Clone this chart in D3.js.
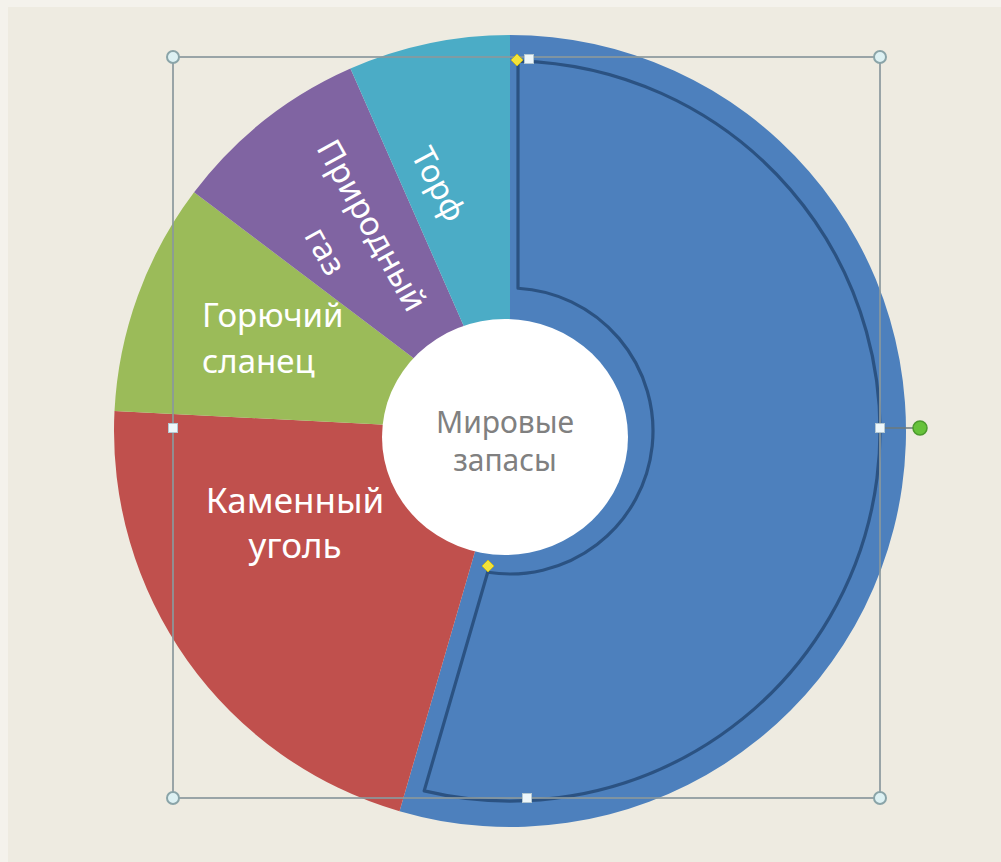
<!DOCTYPE html>
<html><head><meta charset="utf-8">
<script src="https://cdn.jsdelivr.net/npm/d3@7"></script>
<style>body{margin:0;background:#eeebe1;overflow:hidden}</style></head>
<body><svg id="c" width="1001" height="862"></svg>
<script>
// ---- data ----
const categories = ["", "Каменный уголь", "Горючий сланец", "Природный газ", "Торф"];
const values = [54.5, 21.3, 9.5, 8.1, 6.6];
const labelLines = [[], ["Каменный", "уголь"], ["Горючий", "сланец"], ["Природный", "газ"], ["Торф"]];
const centerLabel = ["Мировые", "запасы"];

// ---- style / layout ----
const colors = ["#4d80bd", "#c0504d", "#9bbb59", "#8064a2", "#4bacc6"];
const W = 1001, H = 862, cx = 510, cy = 431, R = 396, R0 = 100;
const labelLayout = [
  null,
  {x: 295, y: 513, rot: 0, size: 35, anchor: "middle", ls: 45, mode: "baseline"},
  {x: 202, y: 327, rot: 0, size: 33, anchor: "start", ls: 46, mode: "baseline"},
  {x: 349, y: 238, rot: 61, size: 33, anchor: "middle", ls: 53, mode: "center"},
  {x: 439, y: 184, rot: 62, size: 32, anchor: "middle", ls: 0, mode: "center"}
];

const svg = d3.select("#c");
svg.append("rect").attr("width", W).attr("height", H).attr("fill", "#f4f2ec");
svg.append("rect").attr("x", 8).attr("y", 7).attr("width", W - 8).attr("height", H - 7).attr("fill", "#eeebe1");

const pie = d3.pie().sort(null).value(d => d);
const arcs = pie(values);
const arc = d3.arc().innerRadius(R0).outerRadius(R);

const g = svg.append("g").attr("transform", `translate(${cx},${cy})`);
g.selectAll("path.slice").data(arcs).join("path")
  .attr("class", "slice")
  .attr("d", arc)
  .attr("fill", (d, i) => colors[i]);

// selection outline inside the blue slice
(function () {
  const a0 = arcs[0].startAngle, a1 = arcs[0].endAngle;
  const ro = 370, ri = 143, ds = 8, de = 18;
  const ts = r => a0 + Math.asin(ds / r), te = r => a1 - Math.asin(de / r);
  const P = (r, t) => [r * Math.sin(t), -r * Math.cos(t)];
  const p = d3.path();
  const s0 = P(ro, ts(ro));
  p.moveTo(s0[0], s0[1]);
  p.arc(0, 0, ro, ts(ro) - Math.PI / 2, te(ro) - Math.PI / 2, false);
  const e1 = P(ri, te(ri));
  p.lineTo(e1[0], e1[1]);
  p.arc(0, 0, ri, te(ri) - Math.PI / 2, ts(ri) - Math.PI / 2, true);
  p.closePath();
  g.append("path").attr("d", p.toString()).attr("fill", "none")
    .attr("stroke", "#2b5282").attr("stroke-width", 3.2).attr("stroke-linejoin", "round");
})();

// center white circle
svg.append("ellipse").attr("cx", 505).attr("cy", 437).attr("rx", 123).attr("ry", 118).attr("fill", "#ffffff");
svg.append("text").attr("x", 505).attr("y", 433).attr("text-anchor", "middle")
  .attr("font-family", "Noto Sans, sans-serif").attr("font-size", 30).attr("fill", "#808080")
  .selectAll("tspan").data(centerLabel).join("tspan")
  .attr("x", 505).attr("dy", (d, i) => i === 0 ? 0 : 38).text(d => d);

// slice labels
labelLines.forEach((lines, i) => {
  const L = labelLayout[i];
  if (!L || !lines.length) return;
  const t = svg.append("text")
    .attr("transform", `translate(${L.x},${L.y}) rotate(${L.rot})`)
    .attr("text-anchor", L.anchor)
    .attr("font-family", "Noto Sans, sans-serif")
    .attr("font-size", L.size).attr("fill", "#ffffff");
  const n = lines.length;
  t.selectAll("tspan").data(lines).join("tspan")
    .attr("x", 0)
    .attr("y", (d, k) => L.mode === "center" ? (k - (n - 1) / 2) * L.ls + L.size * 0.36 : k * L.ls)
    .text(d => d);
});

// selection frame & handles
const fx0 = 173, fy0 = 57, fx1 = 880, fy1 = 798, fmx = 527, fmy = 428;
svg.append("rect").attr("x", fx0).attr("y", fy0).attr("width", fx1 - fx0).attr("height", fy1 - fy0)
  .attr("fill", "none").attr("stroke", "#8a989c").attr("stroke-opacity", 0.85).attr("stroke-width", 2);
svg.append("line").attr("x1", fx1).attr("y1", fmy).attr("x2", 914).attr("y2", fmy)
  .attr("stroke", "#6d7a7c").attr("stroke-width", 1.5);
[[fx0, fy0], [fx1, fy0], [fx0, fy1], [fx1, fy1]].forEach(([x, y]) =>
  svg.append("circle").attr("cx", x).attr("cy", y).attr("r", 6)
    .attr("fill", "#ddf1f3").attr("stroke", "#8aa4a8").attr("stroke-width", 2));
[[fx0, fmy], [fx1, fmy], [fmx, fy1], [529, fy0 + 2]].forEach(([x, y]) =>
  svg.append("rect").attr("x", x - 4.5).attr("y", y - 4.5).attr("width", 9).attr("height", 9)
    .attr("fill", "#eef7fb").attr("stroke", "#b4c8d2").attr("stroke-width", 1));
[[517, 60], [488, 566]].forEach(([x, y]) =>
  svg.append("path").attr("d", `M${x},${y - 6}L${x + 6},${y}L${x},${y + 6}L${x - 6},${y}Z`)
    .attr("fill", "#f2e23a").attr("stroke", "#c8b820").attr("stroke-width", 1));
svg.append("circle").attr("cx", 920).attr("cy", fmy).attr("r", 7)
  .attr("fill", "#66c23a").attr("stroke", "#4b9a2e").attr("stroke-width", 1.5);
</script></body></html>
